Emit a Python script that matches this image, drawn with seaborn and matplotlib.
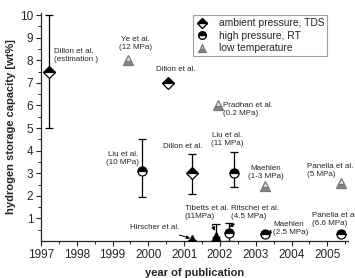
import numpy as np
import pandas as pd
import matplotlib
matplotlib.use("Agg")
import matplotlib.pyplot as plt
from matplotlib.lines import Line2D
import seaborn as sns

# ---- data ----
amb_x = [1997.22, 2000.55, 2001.22]
amb_y = [7.5, 7.0, 3.0]
amb_lo = [5.0, 7.0, 2.1]
amb_hi = [10.0, 7.0, 3.85]

hp_x = [1999.82, 2002.39, 2002.25, 2003.26, 2005.37]
hp_y = [3.1, 3.0, 0.35, 0.3, 0.3]
hp_lo = [1.95, 2.4, 0.0, 0.3, 0.3]
hp_hi = [4.5, 3.95, 0.8, 0.3, 0.3]

lt_x = [1999.43, 2001.94, 2003.26, 2005.37]
lt_y = [8.0, 6.0, 2.45, 2.55]

blk_x = [2001.21, 2001.89]
blk_y = [0.05, 0.18]
blk_lo = [0.05, 0.18]
blk_hi = [0.05, 0.75]

xticks = [1997, 1998, 1999, 2000, 2001, 2002, 2003, 2004, 2005]
yticks = [1, 2, 3, 4, 5, 6, 7, 8, 9, 10]

legend_labels = ["ambient pressure, TDS", "high pressure, RT", "low temperature"]

labels_plain = [
    ("Dillon et al.\n(estimation )", 1997.36, 8.2, "left"),
    ("Ye et al.\n(12 MPa)", 1999.63, 8.76, "center"),
    ("Dillon et al.", 2000.77, 7.57, "center"),
    ("Pradhan et al.\n(0.2 MPa)", 2002.08, 5.8, "left"),
    ("Liu et al.\n(10 MPa)", 1999.29, 3.67, "center"),
    ("Dillon et al.", 2000.97, 4.2, "center"),
    ("Liu et al.\n(11 MPa)", 2002.2, 4.5, "center"),
    ("Maehlen\n(1-3 MPa)", 2003.28, 3.05, "center"),
    ("Panella et al.\n(5 MPa)", 2004.43, 3.14, "left"),
    ("Panella et al\n(6.6 MPa)", 2004.57, 0.95, "left"),
]
labels_arrow = [
    ("Hirscher et al.", 2000.88, 0.58, "right", 2001.17, 0.12),
    ("Tibetts et al.\n(11MPa)", 2001.02, 1.26, "left", 2001.86, 0.45),
    ("Ritschel et al.\n(4.5 MPa)", 2002.3, 1.26, "left", 2002.26, 0.62),
    ("Maehlen\n(2.5 MPa)", 2003.48, 0.55, "left", 2003.32, 0.38),
]

sns.set_style("ticks")
plt.rcParams['font.family'] = ['Liberation Sans', 'DejaVu Sans']

fig = plt.figure(figsize=(3.55, 2.78), dpi=100)
ax = fig.add_axes([0.1155, 0.133, 0.865, 0.821])

def ebar(x, y, lo, hi):
    y = np.array(y); lo = np.array(lo); hi = np.array(hi)
    ax.errorbar(x, y, yerr=[y - lo, hi - y], fmt='none', ecolor='black',
                elinewidth=0.9, capsize=3, capthick=0.9, zorder=2)

ebar(amb_x, amb_y, amb_lo, amb_hi)
ebar(hp_x, hp_y, hp_lo, hp_hi)
ebar(blk_x, blk_y, blk_lo, blk_hi)

common = dict(linestyle='', markeredgewidth=0.9, zorder=3,
              errorbar=None, sort=False, estimator=None)
sns.lineplot(x=amb_x, y=amb_y, ax=ax, marker='D', fillstyle='top', color='black',
             markerfacecolor='black', markerfacecoloralt='white',
             markeredgecolor='black', markersize=6.5, **common)
sns.lineplot(x=hp_x, y=hp_y, ax=ax, marker='o', fillstyle='top', color='black',
             markerfacecolor='black', markerfacecoloralt='white',
             markeredgecolor='black', markersize=6.5, **common)
sns.lineplot(x=lt_x, y=lt_y, ax=ax, marker='^', fillstyle='bottom', color='#777777',
             markerfacecolor='#888888', markerfacecoloralt='#e6e6e6',
             markeredgecolor='#777777', markersize=6.5, **common)
sns.lineplot(x=blk_x, y=blk_y, ax=ax, marker='^', color='black',
             markerfacecolor='black', markeredgecolor='black', markersize=6.5, **common)

for txt, tx, ty, ha in labels_plain:
    ax.text(tx, ty, txt, fontsize=5.8, ha=ha, va='center', linespacing=1.2)
for txt, tx, ty, ha, px, py in labels_arrow:
    ax.annotate(txt, xy=(px, py), xytext=(tx, ty), fontsize=5.8, ha=ha, va='center',
                linespacing=1.2,
                arrowprops=dict(arrowstyle='-|>', lw=0.7, color='black',
                                mutation_scale=5, shrinkA=1, shrinkB=0))

ax.set_xlim(1997, 2005.58)
ax.set_ylim(0, 10.1)
ax.set_xticks(xticks)
ax.set_yticks(yticks)
ax.set_xticks(np.arange(1997.5, 2005.6, 1.0), minor=True)
ax.set_yticks(np.arange(0.5, 10.1, 1.0), minor=True)
ax.tick_params(axis='both', which='major', labelsize=8.5, length=3.5, width=0.8, pad=2)
ax.tick_params(axis='both', which='minor', length=2, width=0.7)
for s in ['left', 'bottom']:
    ax.spines[s].set_linewidth(0.9)
sns.despine(ax=ax)

ax.set_xlabel("year of publication", fontsize=8, fontweight='bold', labelpad=5)
ax.set_ylabel("hydrogen storage capacity [wt%]", fontsize=8, fontweight='bold', labelpad=3)

handles = [
    Line2D([], [], linestyle='', marker='D', fillstyle='top', markerfacecolor='black',
           markerfacecoloralt='white', markeredgecolor='black', markersize=5.5),
    Line2D([], [], linestyle='', marker='o', fillstyle='top', markerfacecolor='black',
           markerfacecoloralt='white', markeredgecolor='black', markersize=5.5),
    Line2D([], [], linestyle='', marker='^', fillstyle='bottom', markerfacecolor='#888888',
           markerfacecoloralt='#e6e6e6', markeredgecolor='#777777', markersize=5.5),
]
leg = ax.legend(handles, legend_labels,
                loc='upper left', bbox_to_anchor=(0.495, 0.99), fontsize=7.4,
                frameon=True, fancybox=False, edgecolor='#888888', handlelength=1.2,
                handletextpad=1.0, borderpad=0.3, labelspacing=0.25, borderaxespad=0)
leg.get_frame().set_linewidth(0.8)

fig.savefig("out.png", dpi=100)
